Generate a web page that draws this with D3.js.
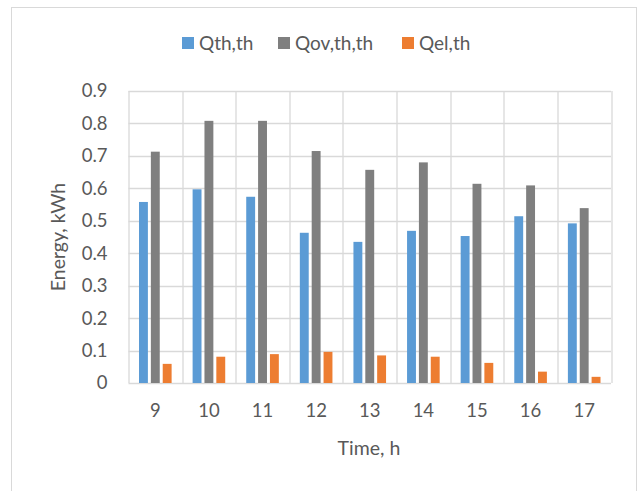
<!DOCTYPE html>
<html>
<head>
<meta charset="utf-8">
<script src="https://cdn.jsdelivr.net/npm/d3@7"></script>
<style>
  body { margin: 0; background: #fff; }
  text { font-family: Lato, "Open Sans", sans-serif; fill: #595959; }
</style>
</head>
<body>
<svg width="639" height="491"></svg>
<script>
// hours on the x axis
var hours = ["9", "10", "11", "12", "13", "14", "15", "16", "17"];
// series (kWh)
var qth = [0.558, 0.597, 0.574, 0.463, 0.435, 0.469, 0.453, 0.514, 0.492];
var qov = [0.713, 0.808, 0.808, 0.715, 0.657, 0.680, 0.614, 0.609, 0.539];
var qel = [0.059, 0.081, 0.089, 0.096, 0.085, 0.081, 0.062, 0.035, 0.019];
var seriesNames = ["Qth,th", "Qov,th,th", "Qel,th"];
var colors = ["#5B9BD5", "#7F7F7F", "#ED7D31"];
var yTicks = [0, 0.1, 0.2, 0.3, 0.4, 0.5, 0.6, 0.7, 0.8, 0.9];

var svg = d3.select("svg"),
    margin = {top: 91, right: 28, bottom: 108, left: 128.5},
    width = 611 - margin.left,
    height = 383 - margin.top;

// outer chart border
svg.append("rect")
    .attr("x", 11.5).attr("y", 7.5)
    .attr("width", 625).attr("height", 500)
    .attr("fill", "none").attr("stroke", "#d9d9d9");

var x = d3.scaleBand().domain(hours).range([0, width]);
var xs = d3.scaleBand().domain(d3.range(3)).range([10.5, x.bandwidth() - 10.5]).paddingInner(0.25);
var y = d3.scaleLinear().domain([0, 0.9]).range([height, 0]);

var g = svg.append("g")
    .attr("transform", "translate(" + margin.left + "," + margin.top + ")");

// horizontal gridlines
g.selectAll(".hgrid")
  .data(yTicks)
  .enter().append("line")
    .attr("x1", 0).attr("x2", width)
    .attr("y1", function(d) { return Math.round(y(d)) + 0.5; })
    .attr("y2", function(d) { return Math.round(y(d)) + 0.5; })
    .attr("stroke", "#d9d9d9").attr("stroke-width", 1.3);

// vertical gridlines at category borders
g.selectAll(".vgrid")
  .data(hours.concat(["end"]))
  .enter().append("line")
    .attr("x1", function(d, i) { return Math.round(i * x.step()) + 0.5; })
    .attr("x2", function(d, i) { return Math.round(i * x.step()) + 0.5; })
    .attr("y1", 0).attr("y2", height)
    .attr("stroke", "#d9d9d9").attr("stroke-width", 1.3);

// bars
var series = [qth, qov, qel];
series.forEach(function(vals, s) {
  g.selectAll(".bar" + s)
    .data(vals)
    .enter().append("rect")
      .attr("x", function(d, i) { return x(hours[i]) + xs(s); })
      .attr("y", function(d) { return y(d); })
      .attr("width", xs.bandwidth())
      .attr("height", function(d) { return height - y(d); })
      .attr("fill", colors[s]);
});

// y axis labels
var yAxis = g.append("g")
    .call(d3.axisLeft(y).tickValues(yTicks).tickSize(0).tickPadding(21)
      .tickFormat(function(d) { return d === 0 ? "0" : d3.format(".1f")(d); }));
yAxis.select(".domain").remove();
yAxis.selectAll("text").style("font-size", "18.5px").attr("fill", "#595959");

// x axis labels
var xAxis = g.append("g")
    .attr("transform", "translate(0," + height + ")")
    .call(d3.axisBottom(x).tickSize(0).tickPadding(21));
xAxis.select(".domain").remove();
xAxis.selectAll("text").style("font-size", "18.5px").attr("fill", "#595959");

// axis titles
svg.append("text")
    .attr("x", 369).attr("y", 455)
    .attr("text-anchor", "middle")
    .style("font-size", "19.5px")
    .text("Time, h");

svg.append("text")
    .attr("transform", "translate(65,237) rotate(-90)")
    .attr("text-anchor", "middle")
    .style("font-size", "19.5px")
    .text("Energy, kWh");

// legend
var legendX = [182, 278, 402];
var legend = svg.selectAll(".legend")
  .data(seriesNames)
  .enter().append("g")
    .attr("transform", function(d, i) { return "translate(" + legendX[i] + ",37)"; });
legend.append("rect")
    .attr("width", 12).attr("height", 12)
    .attr("fill", function(d, i) { return colors[i]; });
legend.append("text")
    .attr("x", 17).attr("y", 12.5)
    .style("font-size", "19px")
    .text(function(d) { return d; });
</script>
</body>
</html>
